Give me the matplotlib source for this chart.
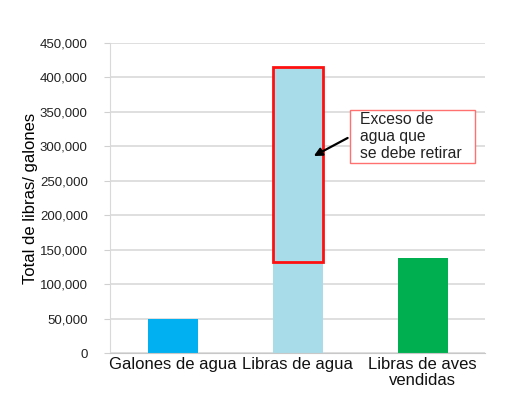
import matplotlib
matplotlib.use("Agg")
import matplotlib.pyplot as plt
from matplotlib.patches import Rectangle

plt.rcParams['font.family'] = ['Liberation Sans', 'DejaVu Sans']

categories = ['Galones de agua', 'Libras de agua', 'Libras de aves\nvendidas']
values = [50000, 415000, 138000]
colors = ['#00B0F0', '#A8DCE8', '#00B050']
yticks = list(range(0, 450001, 50000))

# excess water band on the middle bar
excess_low = 132000
excess_high = 415000

fig = plt.figure(figsize=(5.29, 3.94), dpi=100)
ax = fig.add_axes([0.208, 0.104, 0.709, 0.787])

x = range(len(categories))
ax.bar(x, values, width=0.4, color=colors, zorder=2)

ax.add_patch(Rectangle((1 - 0.2, excess_low), 0.4, excess_high - excess_low,
                       fill=False, edgecolor='#FF1010', linewidth=2, zorder=3))

ax.set_xlim(-0.5, 2.5)
ax.set_ylim(0, 450000)
ax.set_yticks(yticks)
ax.set_yticklabels([f'{v:,}' for v in yticks], fontsize=9.5, color='#222222')
ax.set_xticks(list(x))
ax.set_xticklabels(categories, fontsize=12, linespacing=1.05, color='#111111')
ax.tick_params(axis='x', length=0, pad=3)
ax.tick_params(axis='y', length=4, color='#D0D0D0', pad=12)
ax.grid(axis='y', color='#D9D9D9', linewidth=1.2, zorder=0)
for s in ['top', 'right']:
    ax.spines[s].set_visible(False)
ax.spines['left'].set_color('#D9D9D9')
ax.spines['bottom'].set_color('#C8C8C8')

ax.set_ylabel('Total de libras/ galones', fontsize=12, labelpad=1)

# note box
ax.add_patch(Rectangle((1.42, 276000), 1.0, 77000, facecolor='white',
                       edgecolor='#FF7070', linewidth=1, zorder=4,
                       clip_on=False))
ax.text(1.5, 350500, 'Exceso de\nagua que\nse debe retirar', fontsize=11.3,
        color='#222222', va='top', ha='left', linespacing=1.2, zorder=5)
ax.annotate('', xy=(1.11, 284000), xytext=(1.42, 314000),
            arrowprops=dict(arrowstyle='-|>', color='black', lw=1.6,
                            mutation_scale=12), zorder=5)

fig.savefig('out.png', dpi=100)
